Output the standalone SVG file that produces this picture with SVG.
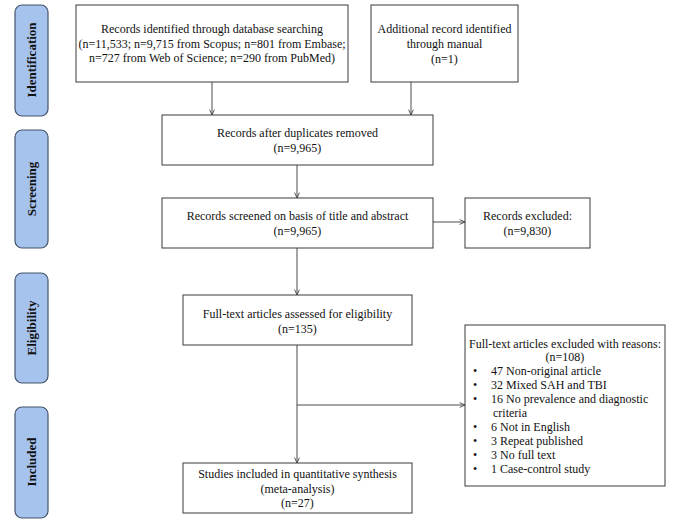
<svg xmlns="http://www.w3.org/2000/svg" width="685" height="526" viewBox="0 0 685 526">
<style>
.bg{fill:#ffffff}
.box{fill:#ffffff;stroke:#3a3a3a;stroke-width:1}
.side{fill:#a6c3ee;stroke:#44546a;stroke-width:1.2}
.t{font-family:"Liberation Serif","Times New Roman",serif;font-size:12px;fill:#111}
.c{text-anchor:middle}
.s{font-family:"Liberation Serif","Times New Roman",serif;font-size:13px;font-weight:bold;fill:#111;text-anchor:middle}
.ln{fill:none;stroke:#4a4a4a;stroke-width:1}
</style>
<defs>
<marker id="ah" viewBox="0 0 10 10" refX="10" refY="5" markerWidth="6" markerHeight="6" orient="auto" markerUnits="userSpaceOnUse">
<path d="M1,1 L10,5 L1,9" fill="none" stroke="#3a3a3a" stroke-width="1.4"/>
</marker>
</defs>
<rect class="bg" x="0" y="0" width="685" height="526"/>
<g id="phase-identification">
<rect class="side" x="15" y="5" width="33" height="111" rx="7"/>
<text class="s" transform="translate(36,60) rotate(-90)">Identification</text>
</g>
<g id="phase-screening">
<rect class="side" x="15" y="130" width="33" height="118" rx="7"/>
<text class="s" transform="translate(36,189) rotate(-90)">Screening</text>
</g>
<g id="phase-eligibility">
<rect class="side" x="15" y="273" width="33" height="110" rx="7"/>
<text class="s" transform="translate(36,328) rotate(-90)">Eligibility</text>
</g>
<g id="phase-included">
<rect class="side" x="15" y="407" width="33" height="111" rx="7"/>
<text class="s" transform="translate(36,462) rotate(-90)">Included</text>
</g>
<g id="connectors">
<path class="ln" d="M212,82 V115" marker-end="url(#ah)"/>
<path class="ln" d="M411,82 V115" marker-end="url(#ah)"/>
<path class="ln" d="M297,165 V198" marker-end="url(#ah)"/>
<path class="ln" d="M433,222 H465" marker-end="url(#ah)"/>
<path class="ln" d="M297,248 V295" marker-end="url(#ah)"/>
<path class="ln" d="M297,345 V463" marker-end="url(#ah)"/>
<path class="ln" d="M297,405 H465" marker-end="url(#ah)"/>
</g>
<g id="node-database">
<rect class="box" x="76" y="5" width="272" height="77"/>
<text class="t c" x="212" y="33">Records identified  through  database searching</text>
<text class="t c" x="212" y="48">(n=11,533; n=9,715 from Scopus; n=801 from Embase;</text>
<text class="t c" x="212" y="62">n=727 from  Web of Science;  n=290 from  PubMed)</text>
</g>
<g id="node-manual">
<rect class="box" x="371" y="5" width="147" height="77"/>
<text class="t c" x="444.5" y="33">Additional  record identified</text>
<text class="t c" x="444.5" y="48">through  manual</text>
<text class="t c" x="444.5" y="63">(n=1)</text>
</g>
<g id="node-duplicates">
<rect class="box" x="162" y="115" width="271" height="50"/>
<text class="t c" x="297.5" y="137">Records after  duplicates  removed</text>
<text class="t c" x="297.5" y="152">(n=9,965)</text>
</g>
<g id="node-screened">
<rect class="box" x="162" y="198" width="271" height="50"/>
<text class="t c" x="297.5" y="220">Records screened  on  basis of title  and abstract</text>
<text class="t c" x="297.5" y="235">(n=9,965)</text>
</g>
<g id="node-excluded">
<rect class="box" x="465" y="198" width="125" height="50"/>
<text class="t c" x="527.5" y="220">Records excluded:</text>
<text class="t c" x="527.5" y="235">(n=9,830)</text>
</g>
<g id="node-fulltext">
<rect class="box" x="183" y="295" width="229" height="50"/>
<text class="t c" x="297.5" y="318">Full-text  articles  assessed for  eligibility</text>
<text class="t c" x="297.5" y="333">(n=135)</text>
</g>
<g id="node-reasons">
<rect class="box" x="465" y="325" width="200" height="161"/>
<text class="t c" x="565" y="348">Full-text articles excluded with reasons:</text>
<text class="t c" x="565" y="361">(n=108)</text>
<text class="t" x="473" y="375">•</text><text class="t" x="491" y="375">47 Non-original  article</text>
<text class="t" x="473" y="389">•</text><text class="t" x="491" y="389">32 Mixed  SAH and TBI</text>
<text class="t" x="473" y="403">•</text><text class="t" x="491" y="403">16 No prevalence  and  diagnostic</text>
<text class="t" x="493" y="417">criteria</text>
<text class="t" x="473" y="431">•</text><text class="t" x="491" y="431">6 Not in  English</text>
<text class="t" x="473" y="445">•</text><text class="t" x="491" y="445">3 Repeat published</text>
<text class="t" x="473" y="459">•</text><text class="t" x="491" y="459">3 No full  text</text>
<text class="t" x="473" y="473">•</text><text class="t" x="491" y="473">1 Case-control  study</text>
</g>
<g id="node-included">
<rect class="box" x="183" y="463" width="229" height="50"/>
<text class="t c" x="297.5" y="478">Studies  included  in  quantitative  synthesis</text>
<text class="t c" x="297.5" y="493">(meta-analysis)</text>
<text class="t c" x="297.5" y="507">(n=27)</text>
</g>
</svg>
